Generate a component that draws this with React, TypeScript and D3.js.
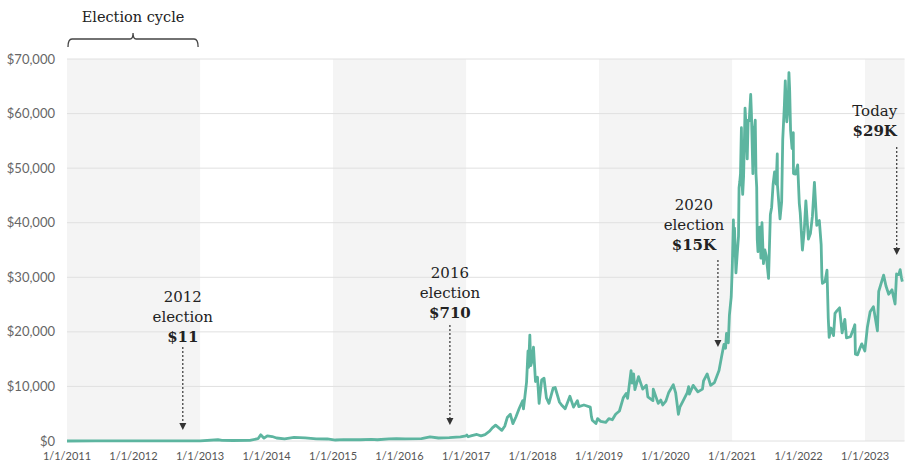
import React from "react";
import * as d3 from "d3";

const priceDates: string[] = [
  "2011-01-01","2011-06-08","2011-07-01","2011-10-01","2012-01-01","2012-06-01","2012-08-15","2012-11-06",
  "2013-01-01","2013-04-09","2013-05-01","2013-07-01","2013-10-01","2013-11-15","2013-11-30","2013-12-18",
  "2014-01-05","2014-02-01","2014-02-25","2014-04-10","2014-06-01","2014-08-01","2014-10-01","2014-12-01",
  "2015-01-14","2015-03-01","2015-06-01","2015-08-01","2015-09-01","2015-11-04","2015-12-15","2016-02-01",
  "2016-05-01","2016-06-17","2016-08-02","2016-10-01","2016-11-08","2016-12-01","2016-12-31","2017-01-05",
  "2017-01-12","2017-02-01","2017-03-01","2017-03-24","2017-04-15","2017-05-10","2017-05-25","2017-06-12",
  "2017-07-16","2017-08-01","2017-08-15","2017-09-01","2017-09-15","2017-10-01","2017-10-20","2017-11-08",
  "2017-11-12","2017-11-29","2017-12-07","2017-12-10","2017-12-17","2017-12-22","2017-12-28","2018-01-06",
  "2018-01-17","2018-01-28","2018-02-06","2018-02-20","2018-03-05","2018-03-18","2018-04-01","2018-04-24",
  "2018-05-05","2018-05-29","2018-06-12","2018-06-29","2018-07-25","2018-08-14","2018-09-04","2018-09-12",
  "2018-10-10","2018-11-14","2018-11-20","2018-11-25","2018-12-15","2018-12-24","2019-01-10","2019-02-07",
  "2019-02-24","2019-03-15","2019-04-02","2019-04-23","2019-05-14","2019-05-30","2019-06-07","2019-06-26",
  "2019-07-02","2019-07-10","2019-07-17","2019-08-06","2019-08-29","2019-09-18","2019-09-26","2019-10-24",
  "2019-10-26","2019-11-22","2019-12-06","2019-12-17","2020-01-03","2020-01-19","2020-02-13","2020-02-26",
  "2020-03-12","2020-03-20","2020-04-06","2020-04-29","2020-05-07","2020-05-11","2020-06-01","2020-06-27",
  "2020-07-22","2020-07-28","2020-08-17","2020-09-05","2020-09-26","2020-10-21","2020-11-05","2020-11-17",
  "2020-11-26","2020-12-01","2020-12-11","2020-12-17","2020-12-27",
  "2021-01-02","2021-01-08","2021-01-11","2021-01-14","2021-01-22","2021-01-29","2021-02-05","2021-02-08",
  "2021-02-12","2021-02-16","2021-02-21","2021-02-25","2021-02-28","2021-03-05","2021-03-10","2021-03-13",
  "2021-03-18","2021-03-25","2021-03-30","2021-04-05","2021-04-13","2021-04-17","2021-04-25","2021-04-30",
  "2021-05-03","2021-05-08","2021-05-12","2021-05-16","2021-05-19","2021-05-23","2021-05-26","2021-06-03",
  "2021-06-08","2021-06-14","2021-06-22","2021-06-30","2021-07-07","2021-07-20","2021-07-30","2021-08-06",
  "2021-08-14","2021-08-22","2021-08-31","2021-09-06","2021-09-07","2021-09-21","2021-09-30","2021-10-06",
  "2021-10-15","2021-10-20","2021-10-28","2021-11-04","2021-11-09","2021-11-13","2021-11-18","2021-11-26",
  "2021-12-03","2021-12-04","2021-12-15","2021-12-27",
  "2022-01-05","2022-01-10","2022-01-22","2022-02-01","2022-02-10","2022-02-24","2022-03-07","2022-03-18",
  "2022-03-29","2022-04-11","2022-04-25","2022-05-05","2022-05-09","2022-05-12","2022-05-26","2022-06-06",
  "2022-06-13","2022-06-18","2022-06-28","2022-07-12","2022-07-20","2022-07-29","2022-08-14","2022-08-28",
  "2022-09-12","2022-09-21","2022-10-13","2022-10-30","2022-11-06","2022-11-09","2022-11-21","2022-12-05",
  "2022-12-14","2022-12-31","2023-01-14","2023-01-29","2023-02-16","2023-03-10","2023-03-17","2023-04-13",
  "2023-04-26","2023-05-11","2023-05-29","2023-06-15","2023-06-23","2023-07-05","2023-07-13","2023-07-20",
  "2023-07-25"
];

const priceValues: number[] = [
  0.3,30,15,5,5,6,12,11,
  13,230,110,90,130,420,1130,520,
  950,820,550,380,650,590,380,370,
  180,260,230,280,230,400,450,380,
  450,750,550,610,710,750,960,1100,
  780,980,1200,930,1180,1800,2400,2900,
  1950,2700,4300,4900,3200,4350,6000,7400,
  5900,10800,16500,13500,19400,13800,14500,17200,
  10900,11700,6900,11200,11500,7900,6900,9700,
  9800,7100,6500,5900,8200,6200,7400,6300,
  6600,6200,4500,3800,3200,4100,3600,3400,
  4100,3900,4900,5500,7900,8700,7800,12900,
  10600,12300,9400,11800,9500,10200,8100,7400,
  9500,6900,7500,6600,7300,8900,10300,8800,
  4900,6200,7300,8800,9950,8600,10200,9000,
  9500,11000,12300,10200,10700,12900,15600,17700,
  17000,19700,18000,23000,26400,
  32000,40500,34000,39000,30800,34300,37500,46400,
  47500,49000,57400,47000,45200,48500,56000,61000,
  58000,51700,58800,58700,63500,60000,49000,57500,
  57000,58800,49000,46500,37000,34700,39000,39200,
  33500,40000,32500,35000,34000,29800,41500,42800,
  47000,49300,47100,52600,46900,40700,43800,55300,
  61500,66000,58500,61000,67500,64300,56900,53600,
  56500,49000,48900,50600,
  43500,41800,35000,38500,44000,37000,38000,41200,
  47400,39500,40400,36000,30100,28900,29200,31300,
  22500,19000,20700,19300,23400,23800,24400,19800,
  22300,18900,19100,20600,21300,15900,15800,17100,
  17800,16500,20900,23700,24600,20200,27400,30400,
  28400,26900,27700,25100,30600,30500,31400,29900,
  29200
];

const yTicks: number[] = [0, 10000, 20000, 30000, 40000, 50000, 60000, 70000];
const xTickYears: number[] = [2011, 2012, 2013, 2014, 2015, 2016, 2017, 2018, 2019, 2020, 2021, 2022, 2023];
const cycleBandStarts: string[] = ["2011-01-01", "2015-01-01", "2019-01-01", "2023-01-01"];
const cycleBandEnds: string[] = ["2013-01-01", "2017-01-01", "2021-01-01", "2023-08-06"];

const annotYear: string[] = ["2012", "2016", "2020", "Today"];
const annotLabel: string[] = ["election", "election", "election", ""];
const annotPrice: string[] = ["$11", "$710", "$15K", "$29K"];
const annotDate: string[] = ["2012-09-28", "2016-10-04", "2020-10-15", "2023-06-24"];

const parse = d3.timeParse("%Y-%m-%d");

export default function App() {
  const W = 910, H = 465;
  const x = d3.scaleTime()
    .domain([new Date(2011, 0, 1), new Date(2024, 0, 1)])
    .range([67, 67 + 13 * 66.5]);
  const y = d3.scaleLinear().domain([0, 70000]).range([441, 59]);
  const plotRight = x(new Date(2023, 7, 6));

  const data = priceDates.map((d, i) => ({ date: parse(d) as Date, v: priceValues[i] }));
  const line = d3.line<{ date: Date; v: number }>()
    .x(d => x(d.date))
    .y(d => y(d.v));

  const fmt = (v: number) => "$" + d3.format(",")(v);
  const serif = "'DejaVu Serif', Georgia, serif";
  const sans = "Lato, 'Open Sans', sans-serif";

  const textDx = [0, 0, -24, -22];
  const topBase = [302, 278, 210, 116];
  const arrowTop = [347, 325, 260, 147];
  const arrowTip = [430, 425, 347, 255];

  const bx0 = x(new Date(2011, 0, 1)) + 1;
  const bx1 = x(new Date(2013, 0, 1)) - 2;
  const bm = (bx0 + bx1) / 2;

  return (
    <svg width={W} height={H} style={{ position: "absolute", left: 0, top: 0, background: "#fff" }}>
      {cycleBandStarts.map((s, i) => (
        <rect key={"b" + i}
          x={x(parse(s) as Date)} y={y(70000)}
          width={x(parse(cycleBandEnds[i]) as Date) - x(parse(s) as Date)}
          height={y(0) - y(70000)} fill="#f4f4f4" />
      ))}
      {yTicks.map(t => (
        <g key={"y" + t}>
          <line x1={x(new Date(2011, 0, 1))} x2={plotRight} y1={y(t)} y2={y(t)} stroke="#e0e0e0" strokeWidth={1} />
          <text x={55} y={y(t)} dy="0.35em" textAnchor="end" fontFamily={sans} fontSize={13} fill="#666">{fmt(t)}</text>
        </g>
      ))}
      {xTickYears.map(yr => (
        <text key={"x" + yr} x={x(new Date(yr, 0, 1))} y={460} textAnchor="middle" fontFamily={sans} fontSize={11} fill="#555">
          {"1/1/" + yr}
        </text>
      ))}
      <path d={line(data) as string} fill="none" stroke="#5db5a0" strokeWidth={2.8} strokeLinejoin="round" />

      <path d={`M${bx0},47 Q${bx0},39 ${bx0 + 4},39 L${bm - 3},39 Q${bm},39 ${bm},33 Q${bm},39 ${bm + 3},39 L${bx1 - 4},39 Q${bx1},39 ${bx1},47`}
        fill="none" stroke="#444" strokeWidth={1.3} />
      <text x={bm} y={22} textAnchor="middle" fontFamily={serif} fontSize={14.5} fill="#222">Election cycle</text>

      {annotYear.map((yr, i) => {
        const ax = x(parse(annotDate[i]) as Date);
        const tx = ax + textDx[i];
        const lines = annotLabel[i] ? [yr, annotLabel[i]] : [yr];
        return (
          <g key={"a" + i}>
            {lines.map((l, j) => (
              <text key={j} x={tx} y={topBase[i] + j * 20} textAnchor="middle" fontFamily={serif} fontSize={15} fill="#222">{l}</text>
            ))}
            <text x={tx} y={topBase[i] + lines.length * 20} textAnchor="middle" fontFamily={serif} fontSize={15} fontWeight="bold" fill="#222">{annotPrice[i]}</text>
            <line x1={ax} x2={ax} y1={arrowTop[i]} y2={arrowTip[i] - 6} stroke="#333" strokeWidth={1.2} strokeDasharray="2,2" />
            <path d={`M${ax - 3.5},${arrowTip[i] - 7} L${ax + 3.5},${arrowTip[i] - 7} L${ax},${arrowTip[i]} Z`} fill="#333" />
          </g>
        );
      })}
    </svg>
  );
}
